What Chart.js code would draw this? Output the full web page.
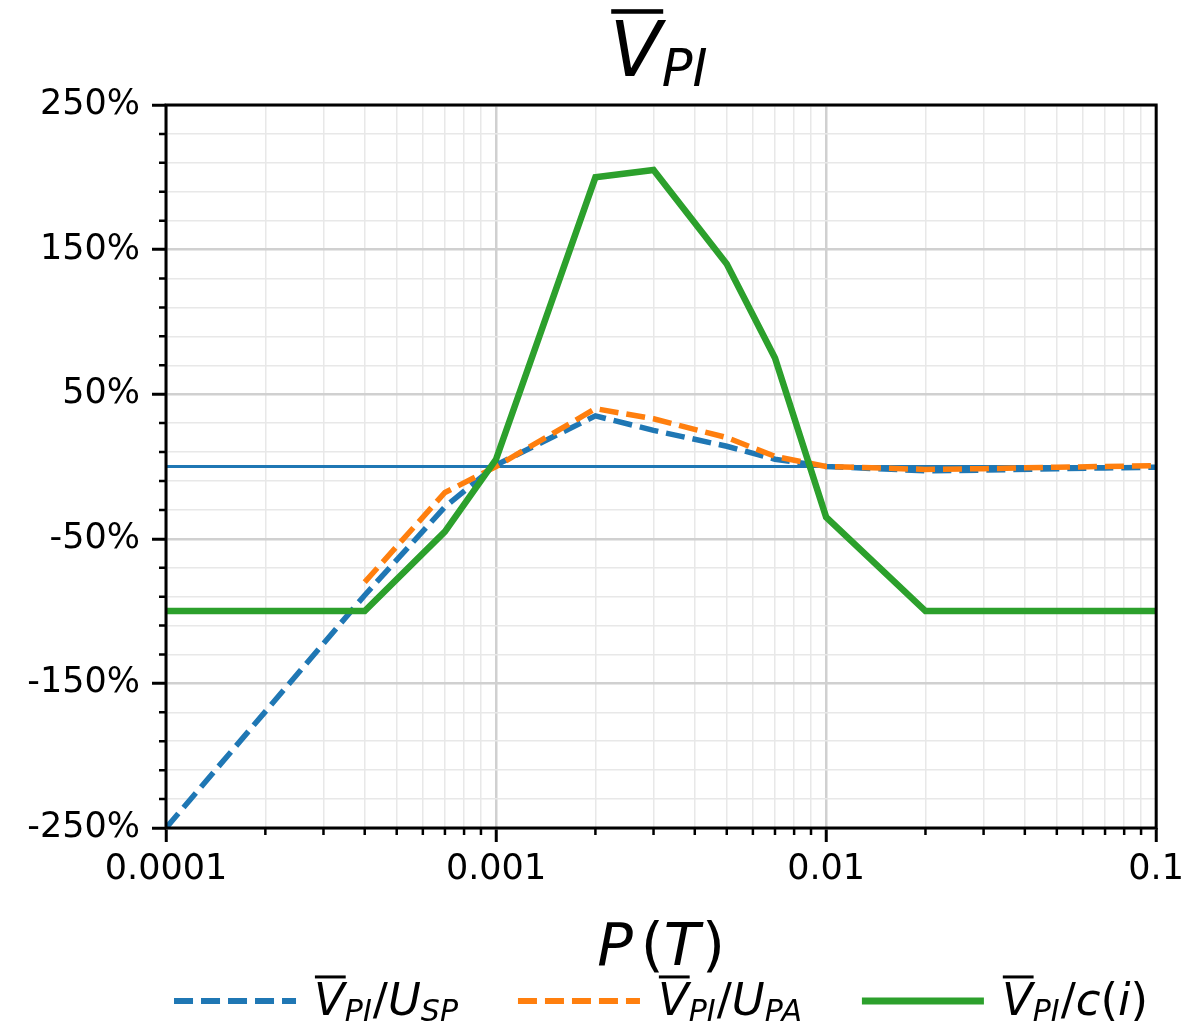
<!DOCTYPE html>
<html>
<head>
<meta charset="utf-8">
<script src="https://cdn.jsdelivr.net/npm/chart.js@4.4.0/dist/chart.umd.min.js"></script>
<style>
  body { margin: 0; background: #fff; }
  #wrap { width: 1191px; height: 1029px; }
</style>
</head>
<body>
<div id="wrap"><canvas id="chart"></canvas></div>
<script>
// x values (P(T)) and the three series, in percent
const P_VALUES = [0.0001, 0.0004, 0.0007, 0.001, 0.002, 0.003, 0.005, 0.007, 0.01, 0.02, 0.03, 0.05, 0.07, 0.1];
const V_USP = [-250, -89, -28, 1, 35, 25, 14, 5, 0, -3, -2.5, -1.5, -1, -0.5];
const V_UPA = [null, -80, -18, 0, 40, 33, 20, 7, 0, -2, -1.5, -0.5, 0, 0.5];
const V_CI = [-100, -100, -45, 5, 200, 205, 140, 75, -35, -100, -100, -100, -100, -100];
const ZERO_X = [0.0001, 0.1];
const ZERO_Y = [0, 0];

const X_MAJOR = [0.0001, 0.001, 0.01, 0.1];
const X_LABELS = ['0.0001', '0.001', '0.01', '0.1'];
const X_MINOR_MULT = [2, 3, 4, 5, 6, 7, 8, 9];
const Y_MAJOR = [250, 150, 50, -50, -150, -250];
const Y_LABELS = ['250%', '150%', '50%', '-50%', '-150%', '-250%'];
const Y_MIN = -250;
const Y_MAX = 250;
const Y_MINOR_STEP = 20;

const C_BLUE = '#1f77b4';
const C_ORANGE = '#ff7f0e';
const C_GREEN = '#2ca02c';
const FONT = '"DejaVu Sans", sans-serif';

function toPoints(xs, ys) {
    return xs.map((x, i) => ({ x: x, y: ys[i] })).filter(p => p.y !== null);
}

// tick lists (major + minor)
const xTicks = [];
X_MAJOR.forEach((d, i) => {
    xTicks.push(d);
    if (i < X_MAJOR.length - 1) X_MINOR_MULT.forEach(m => xTicks.push(d * m));
});
const yTicks = [];
for (let v = Y_MIN; v <= Y_MAX; v += Y_MINOR_STEP) yTicks.push(v);

const isXMajor = v => X_MAJOR.indexOf(v) >= 0;
const isYMajor = v => Y_MAJOR.indexOf(v) >= 0;

// rich text: parts of {t, size, italic, sub, over}
function partFont(p) {
    return (p.italic ? 'italic ' : '') + p.size + 'px ' + FONT;
}
function measureRich(ctx, parts) {
    let w = 0;
    parts.forEach(p => {
        ctx.font = partFont(p);
        p.w = ctx.measureText(p.t).width;
        w += p.w + (p.pad || 0);
    });
    return w;
}
function drawRich(ctx, parts, x, baseline, mainSize) {
    measureRich(ctx, parts);
    ctx.fillStyle = '#000';
    ctx.textAlign = 'left';
    ctx.textBaseline = 'alphabetic';
    parts.forEach(p => {
        ctx.font = partFont(p);
        const y = baseline + (p.sub ? mainSize * 0.13 : 0);
        ctx.fillText(p.t, x, y);
        if (p.over) {
            const oy = baseline - p.size * 0.729 - p.size * 0.12;
            ctx.fillRect(x + p.size * 0.02, oy - p.size * 0.03, p.w, Math.max(3, p.size * 0.06));
        }
        x += p.w + (p.pad || 0);
    });
}

function vbar(size) {
    return [
        { t: 'V', size: size, italic: true, over: true },
        { t: 'PI', size: Math.round(size * 0.67), italic: true, sub: true, pad: 1 }
    ];
}

const LEGEND_ITEMS = [
    { color: C_BLUE, dash: [19, 8], parts: s => vbar(s).concat([
        { t: '/', size: s }, { t: 'U', size: s, italic: true },
        { t: 'SP', size: Math.round(s * 0.67), italic: true, sub: true }]) },
    { color: C_ORANGE, dash: [19, 8], parts: s => vbar(s).concat([
        { t: '/', size: s }, { t: 'U', size: s, italic: true },
        { t: 'PA', size: Math.round(s * 0.67), italic: true, sub: true }]) },
    { color: C_GREEN, dash: [], parts: s => vbar(s).concat([
        { t: '/', size: s }, { t: 'c', size: s, italic: true },
        { t: '(', size: s }, { t: 'i', size: s, italic: true }, { t: ')', size: s }]) }
];

const decorPlugin = {
    id: 'decor',
    afterDraw(chart) {
        const ctx = chart.ctx;
        const area = chart.chartArea;
        const xs = chart.scales.x;
        const ys = chart.scales.y;
        ctx.save();

        // minor tick marks
        ctx.strokeStyle = '#000';
        ctx.lineWidth = 2.5;
        ctx.beginPath();
        xTicks.filter(v => !isXMajor(v)).forEach(v => {
            const px = xs.getPixelForValue(v);
            ctx.moveTo(px, area.bottom);
            ctx.lineTo(px, area.bottom + 7);
        });
        yTicks.filter(v => !isYMajor(v)).forEach(v => {
            const py = ys.getPixelForValue(v);
            ctx.moveTo(area.left - 7, py);
            ctx.lineTo(area.left, py);
        });
        ctx.stroke();

        // axes box
        ctx.lineWidth = 3;
        ctx.strokeRect(area.left, area.top, area.right - area.left, area.bottom - area.top);

        const cx = (area.left + area.right) / 2;

        // title
        const tParts = vbar(76);
        const tw = measureRich(ctx, tParts);
        drawRich(ctx, tParts, cx - tw / 2 - 2, 76, 76);

        // x-axis title
        const xParts = [
            { t: 'P', size: 59, italic: true, pad: 8 },
            { t: '(', size: 59 },
            { t: 'T', size: 59, italic: true, pad: 2 },
            { t: ')', size: 59 }
        ];
        const xw = measureRich(ctx, xParts);
        drawRich(ctx, xParts, cx - xw / 2, 965, 59);

        // legend
        const LS = 45, lineLen = 122, lineGap = 18, itemGap = 60;
        const items = LEGEND_ITEMS.map(it => {
            const parts = it.parts(LS);
            return { it: it, parts: parts, w: measureRich(ctx, parts) };
        });
        let total = items.reduce((s, o) => s + lineLen + lineGap + o.w, 0) + itemGap * (items.length - 1);
        let x = cx - total / 2;
        items.forEach(o => {
            ctx.strokeStyle = o.it.color;
            ctx.lineWidth = o.it.dash.length ? 6 : 7;
            ctx.lineCap = 'butt';
            ctx.setLineDash(o.it.dash);
            ctx.beginPath();
            ctx.moveTo(x, 1001);
            ctx.lineTo(x + lineLen, 1001);
            ctx.stroke();
            ctx.setLineDash([]);
            x += lineLen + lineGap;
            drawRich(ctx, o.parts, x, 1015, LS);
            x += o.w + itemGap;
        });

        ctx.restore();
    }
};

new Chart(document.getElementById('chart'), {
    type: 'line',
    data: {
        datasets: [
            {
                label: 'V_PI/c(i)',
                data: toPoints(P_VALUES, V_CI),
                borderColor: C_GREEN,
                borderWidth: 6.5,
                order: 0
            },
            {
                label: 'V_PI/U_PA',
                data: toPoints(P_VALUES, V_UPA),
                borderColor: C_ORANGE,
                borderWidth: 5.5,
                borderDash: [19, 8],
                order: 1
            },
            {
                label: 'V_PI/U_SP',
                data: toPoints(P_VALUES, V_USP),
                borderColor: C_BLUE,
                borderWidth: 5.5,
                borderDash: [19, 8],
                order: 2
            },
            {
                label: 'zero',
                data: toPoints(ZERO_X, ZERO_Y),
                borderColor: C_BLUE,
                borderWidth: 3,
                order: 3
            }
        ]
    },
    options: {
        responsive: true,
        maintainAspectRatio: false,
        animation: false,
        elements: {
            point: { radius: 0, hoverRadius: 0 },
            line: { tension: 0, borderCapStyle: 'butt', fill: false }
        },
        layout: { padding: { top: 105, right: 34, left: 0, bottom: 0 } },
        plugins: {
            legend: { display: false },
            title: { display: false },
            tooltip: { enabled: false }
        },
        scales: {
            x: {
                type: 'logarithmic',
                min: 0.0001,
                max: 0.1,
                afterBuildTicks: s => { s.ticks = xTicks.map(v => ({ value: v })); },
                afterFit: s => { s.height = 201; },
                border: { display: false },
                grid: {
                    color: c => isXMajor(c.tick.value) ? '#d0d0d0' : '#e8e8e8',
                    lineWidth: c => isXMajor(c.tick.value) ? 2.5 : 1.5,
                    tickColor: c => isXMajor(c.tick.value) ? '#000' : 'rgba(0,0,0,0)',
                    tickWidth: 3,
                    tickLength: 14
                },
                ticks: {
                    autoSkip: false,
                    maxRotation: 0,
                    minRotation: 0,
                    padding: 7,
                    color: '#000',
                    font: { family: FONT, size: 35 },
                    callback: v => {
                        const i = X_MAJOR.indexOf(v);
                        return i >= 0 ? X_LABELS[i] : '';
                    }
                }
            },
            y: {
                type: 'linear',
                min: Y_MIN,
                max: Y_MAX,
                afterBuildTicks: s => { s.ticks = yTicks.map(v => ({ value: v })); },
                afterFit: s => { s.width = 166; },
                border: { display: false },
                grid: {
                    color: c => isYMajor(c.tick.value) ? '#d0d0d0' : '#e8e8e8',
                    lineWidth: c => isYMajor(c.tick.value) ? 2.5 : 1.5,
                    tickColor: c => isYMajor(c.tick.value) ? '#000' : 'rgba(0,0,0,0)',
                    tickWidth: 3,
                    tickLength: 14
                },
                ticks: {
                    autoSkip: false,
                    padding: 12,
                    color: '#000',
                    font: { family: FONT, size: 35 },
                    callback: v => {
                        const i = Y_MAJOR.indexOf(v);
                        return i >= 0 ? Y_LABELS[i] : '';
                    }
                }
            }
        }
    },
    plugins: [decorPlugin]
});
</script>
</body>
</html>
